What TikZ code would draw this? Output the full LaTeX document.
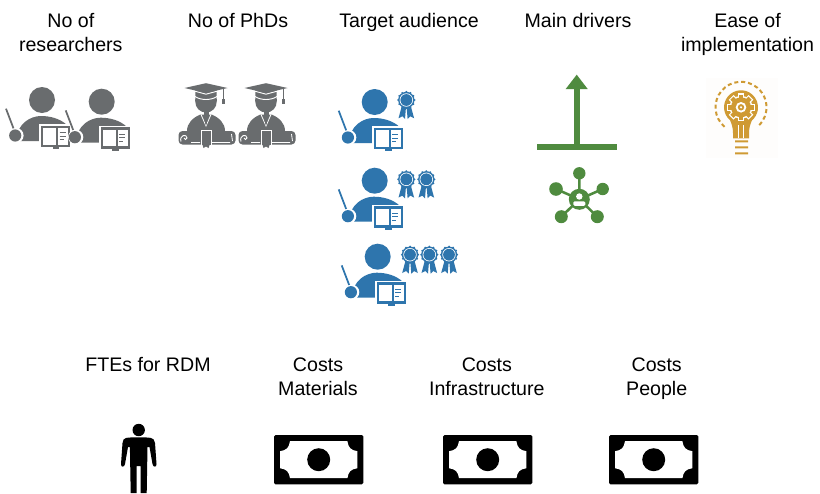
\documentclass[tikz,border=0pt]{standalone}
\usepackage{fontspec}
\setmainfont{Liberation Sans}
\definecolor{grayicon}{HTML}{696C6E}
\definecolor{blueicon}{HTML}{2E75AD}
\definecolor{greenicon}{HTML}{4F8B3F}
\definecolor{goldicon}{HTML}{CF9A33}
\definecolor{paleback}{HTML}{FEFDFC}
\tikzset{
  title/.style={font=\fontsize{14.7}{18}\selectfont, align=center, inner sep=0pt, text=black},
  pics/teacher/.style={code={
    \fill[#1] (0,0) circle (13);
    \fill[#1] (-26,41) .. controls (-25,23) and (-11,16) .. (-1,16) .. controls (8,16) and (18,18.5) .. (25,25) -- (2,41) -- cycle;
    \draw[#1, line width=1.3pt] (-36,8.7) -- (-27.5,31);
    \fill[white] (-26,35.5) circle (7.6);
    \fill[#1] (-26.8,35.5) circle (6.1);
    \fill[white] (-3,24) rectangle (30,49);
    \fill[#1] (-0.7,25.7) rectangle (28,47);
    \fill[#1] (10.5,46) rectangle (17,48.8);
    \fill[white] (1.3,28) rectangle (14,44.7);
    \fill[white] (16,28) rectangle (26,44.7);
    \draw[#1, line width=.7pt] (17.5,32.5) -- (23.5,32.5) (17.5,36) -- (23.5,36) (17.5,39.5) -- (21.5,39.5);
  }},
  pics/rosette/.style={code={
    \fill[#1] (-4.5,6) -- (-.4,8) -- (-1.3,19) -- (-4,16.3) -- (-7.8,18.3) -- cycle;
    \fill[#1] (4.5,6) -- (.4,8) -- (1.3,19) -- (4,16.3) -- (7.8,18.3) -- cycle;
    \foreach \a in {0,30,...,330} {\fill[#1] (\a:8.2) circle (1);}
    \fill[#1] (0,0) circle (8.2);
    \fill[white] (0,0) circle (6.7);
    \fill[#1] (0,0) circle (5.9);
  }},
  pics/graduate/.style={code={
    % scroll
    \fill[#1, rounded corners=3pt] (-27.5,43) rectangle (29.5,56.5);
    \draw[white, line width=.7pt] (-25,53.5) .. controls (-27,47) and (-19,45.5) .. (-19,50) .. controls (-19,52) and (-22,52) .. (-22,50);
    \draw[white, line width=.6pt] (-15,54.5) -- (-6,54.5) (6,54.5) -- (24,54.5) (25.5,46) -- (26.5,53);
    % body
    \fill[#1] (-19,43) .. controls (-19,35) and (-13,29.5) .. (-5.5,26.5) -- (5.5,26.5) .. controls (13,29.5) and (19,35) .. (19,43) -- cycle;
    \draw[white, line width=.6pt] (-5,26.5) -- (0,38) -- (5,26.5);
    \fill[#1] (0,29) -- (1.7,31.5) -- (0,38) -- (-1.7,31.5) -- cycle;
    % centre band
    \fill[white] (-5.5,41.5) rectangle (5.5,58);
    \fill[#1] (-4.5,42.5) rectangle (4.5,57);
    \fill[#1] (-3.5,57) -- (-2.5,60) -- (0,58.5) -- (2.5,60) -- (3.5,57) -- cycle;
    % head
    \fill[#1] (-2.5,22) rectangle (2.5,27);
    \fill[#1] (-10.5,2) -- (10.5,2) -- (10.8,13) .. controls (10.8,20) and (6,24.5) .. (0,24.5) .. controls (-6,24.5) and (-10.8,20) .. (-10.8,13) -- cycle;
    \draw[white, line width=.7pt] (-11,8.5) .. controls (-5,12.5) and (5,12.5) .. (11,8.5);
    % cap
    \draw[white, line width=.7pt] (-11,3.2) -- (0,6.2) -- (11,3.2);
    \fill[#1] (-21.5,0) -- (0,-4.8) -- (21.5,0) -- (0,5) -- cycle;
    \draw[#1, line width=.6pt] (17.3,1) -- (17.3,11);
    \fill[#1] (15.9,11) rectangle (18.7,15.5);
  }},
  pics/banknote/.style={code={
    \fill[black, rounded corners=1.2pt] (-44.7,-24.7) rectangle (44.7,24.7);
    \fill[white] (-38.7,-8.5) .. controls (-32,-9.5) and (-29.7,-12) .. (-28.7,-18.5)
      -- (28.7,-18.5) .. controls (29.7,-12) and (32,-9.5) .. (38.7,-8.5)
      -- (38.7,8.5) .. controls (32,9.5) and (29.7,12) .. (28.7,18.5)
      -- (-28.7,18.5) .. controls (-29.7,12) and (-32,9.5) .. (-38.7,8.5) -- cycle;
    \fill[black] (0,0) circle (11.5);
  }}
}
\begin{document}
\begin{tikzpicture}[x=0.75pt,y=-0.75pt]
\useasboundingbox (0,0) rectangle (820,493);
\fill[white] (0,0) rectangle (820,493);

% titles
\node[title] (t1) at (70.8,34.5) {\strut No of\\\strut researchers};
\node[title] (t2) at (238,22.5) {\strut No of PhDs};
\node[title] (t3) at (409,22.5) {\strut Target audience};
\node[title] (t4) at (578,22.5) {\strut Main drivers};
\node[title] (t5) at (747.5,34.5) {\strut Ease of\\\strut implementation};
\node[title] (t6) at (148,366.5) {\strut FTEs for RDM};
\node[title] (t7) at (318,378.5) {\strut Costs\\\strut Materials};
\node[title] (t8) at (486.8,378.5) {\strut Costs\\\strut Infrastructure};
\node[title] (t9) at (656.7,378.5) {\strut Costs\\\strut People};

% gray teachers
\pic at (42,100) {teacher=grayicon};
\pic at (101.7,101.7) {teacher=grayicon};

% graduates
\pic at (206,88) {graduate=grayicon};
\pic at (266,88) {graduate=grayicon};

% blue teachers with rosettes
\pic at (374.7,102) {teacher=blueicon};
\pic at (406.3,100) {rosette=blueicon};
\pic at (374.7,180.7) {teacher=blueicon};
\pic at (406.3,179.3) {rosette=blueicon};
\pic at (426.3,179.3) {rosette=blueicon};
\pic at (377.7,256.7) {teacher=blueicon};
\pic at (410,254.7) {rosette=blueicon};
\pic at (429.3,254.7) {rosette=blueicon};
\pic at (449,254.7) {rosette=blueicon};

% green arrow
\fill[greenicon] (536.7,144.3) rectangle (616.7,150.3);
\fill[greenicon] (573.7,88) rectangle (579.7,146);
\fill[greenicon] (576.7,74.7) -- (587.7,89) -- (565.7,89) -- cycle;

% green network
\begin{scope}[shift={(579.3,199.3)}]
  \draw[greenicon, line width=1.9pt] (0,0) -- (0,-26) (0,0) -- (-23.3,-10.3) (0,0) -- (23.4,-10.3) (0,0) -- (-18,17.4) (0,0) -- (18,17.4);
  \fill[greenicon] (0,-26) circle (6.2) (-23.3,-10.3) circle (6.8) (23.4,-10.3) circle (6.2) (-18,17.4) circle (6.5) (18,17.4) circle (6.5);
  \fill[greenicon] (0,0) circle (10.5);
  \fill[white] (0,-2.8) circle (3.2);
  \fill[white, rounded corners=1pt] (-6,2) rectangle (6,6.5);
\end{scope}

% bulb
\fill[paleback] (706,78) rectangle (778,158);
\begin{scope}[shift={(741,107.3)}]
  \draw[goldicon, line width=1.5pt, dash pattern=on 3pt off 2.2pt] (130:25.5) arc[start angle=130, end angle=410, radius=25.5];
  \fill[goldicon] (-8,31) -- (-8,26) .. controls (-8,21) and (-9,17.5) .. (-10.9,13) arc[start angle=130, end angle=410, radius=17] .. controls (9,17.5) and (8,21) .. (8,26) -- (8,31) -- cycle;
  \draw[white, line width=.9pt] (-2.5,18) -- (-2.5,31) (2.5,18) -- (2.5,31);
  \foreach \a in {0,45,...,315} {\fill[white, rotate=\a] (-3.4,-14) rectangle (3.4,-9);}
  \fill[white] (0,0) circle (11.5);
  \foreach \a in {0,45,...,315} {\fill[goldicon, rotate=\a] (-2.2,-12.8) rectangle (2.2,-8);}
  \fill[goldicon] (0,0) circle (10);
  \fill[white] (0,0) circle (5.3);
  \fill[goldicon] (0,0) circle (3.2);
  \fill[white] (0,0) circle (1.2);
  \fill[goldicon] (-6,33) rectangle (7,35) (-6,39) rectangle (7,41) (-6,45) rectangle (7,47);
\end{scope}

% person
\fill[black] (138.7,430) circle (6.2);
\fill[black] (126,438) .. controls (130,437) and (147,437) .. (151,438)
  .. controls (153,438) and (154.5,440) .. (155,443) -- (156.5,464)
  .. controls (156.8,467.5) and (153,467.5) .. (152.5,464) -- (149.5,447)
  -- (147.5,447) -- (146.7,493) -- (140.7,493) -- (140.7,466) -- (136.7,466) -- (136.7,493) -- (130.7,493)
  -- (129.9,447) -- (128,447) -- (125,464) .. controls (124.5,467.5) and (120.7,467.5) .. (121,464) -- (122.5,443)
  .. controls (123,440) and (124,438) .. (126,438) -- cycle;

% banknotes
\pic at (318.7,459.7) {banknote};
\pic at (487.7,459.7) {banknote};
\pic at (653.7,459.7) {banknote};
\end{tikzpicture}
\end{document}
